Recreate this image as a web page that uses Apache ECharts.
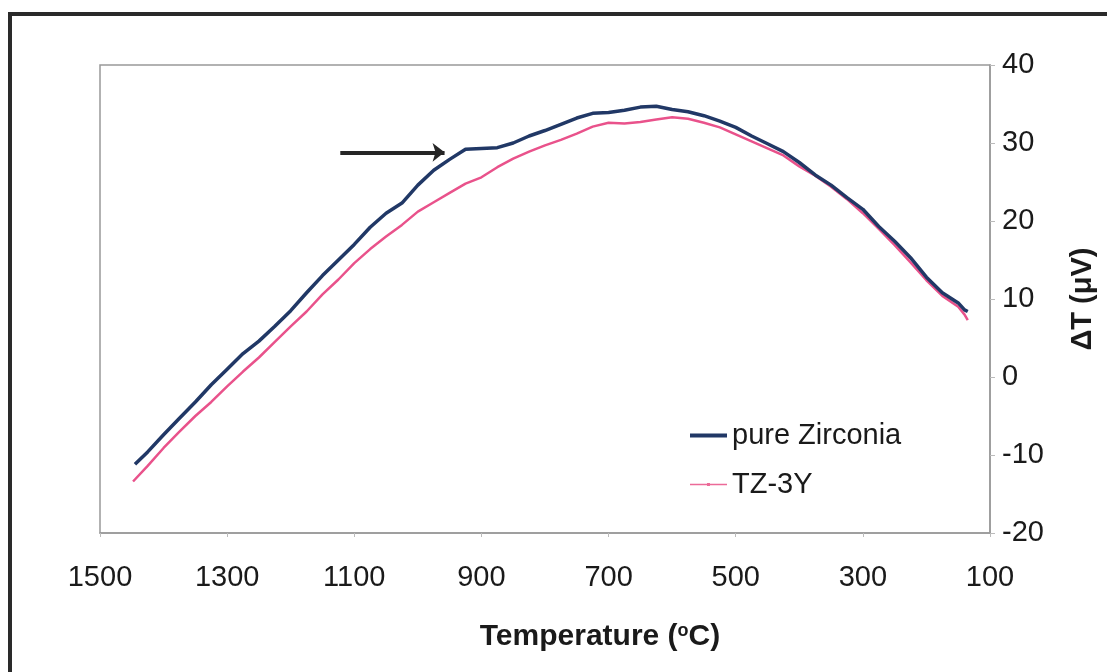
<!DOCTYPE html>
<html><head><meta charset="utf-8">
<script src="https://cdn.jsdelivr.net/npm/echarts@6/dist/echarts.min.js"></script>
<style>html,body{margin:0;padding:0;background:#fff}#c{width:1107px;height:672px}</style>
</head><body><div id="c"></div>
<script>
const zirconiaT = [1445,1425,1400,1375,1350,1325,1300,1275,1250,1225,1200,1175,1150,1125,1100,1075,1050,1025,1000,975,950,925,900,875,850,825,800,775,750,725,700,675,650,625,600,575,550,525,500,475,450,425,400,375,350,325,300,275,250,225,200,175,150,140,135];
const zirconiaDT = [-11.2,-9.6,-7.4,-5.3,-3.2,-1.0,1.0,3.0,4.6,6.5,8.5,10.8,13.0,15.0,17.0,19.2,21.0,22.3,24.6,26.5,27.9,29.2,29.3,29.4,30.0,30.9,31.6,32.4,33.2,33.8,33.9,34.2,34.6,34.7,34.3,34.0,33.5,32.8,32.0,30.9,29.9,28.9,27.5,25.9,24.6,23.0,21.5,19.3,17.4,15.3,12.8,10.8,9.5,8.6,8.4];
const tz3yT = [1448,1425,1400,1375,1350,1325,1300,1275,1250,1225,1200,1175,1150,1125,1100,1075,1050,1025,1000,975,950,925,900,875,850,825,800,775,750,725,700,675,650,625,600,575,550,525,500,475,450,425,400,375,350,325,300,275,250,225,200,175,150,140,135];
const tz3yDT = [-13.4,-11.4,-9.1,-7.0,-5.0,-3.2,-1.2,0.7,2.5,4.5,6.5,8.4,10.6,12.5,14.6,16.4,18.0,19.5,21.2,22.4,23.6,24.8,25.6,26.9,28.0,28.9,29.7,30.4,31.2,32.1,32.6,32.5,32.7,33.0,33.3,33.1,32.6,32.0,31.1,30.2,29.3,28.4,27.0,25.8,24.4,22.8,21.0,19.0,16.9,14.7,12.4,10.4,9.0,8.0,7.3];
const arrowFrom = [1122, 28.8];
const arrowTo = [958, 28.8];

const chart = echarts.init(document.getElementById('c'));
const font = '"Liberation Sans", Arial, sans-serif';
const padPts = 'M0,0L0.01,0L0,0.01Z M0,12L0.01,12L0,11.99Z';
chart.setOption({
  backgroundColor: '#fff',
  animation: false,
  graphic: [{type:'rect', shape:{x:10,y:14,width:1200,height:800}, style:{fill:'none', stroke:'#2a2a2a', lineWidth:4}, silent:true}],
  grid: {left:100, right:117, top:65, bottom:139, show:true, borderColor:'#999', borderWidth:1.5, backgroundColor:'transparent'},
  legend: {
    orient:'vertical', left:685, top:416, itemGap:20, itemWidth:37, itemHeight:12, symbolKeepAspect:false,
    textStyle:{fontFamily:font, fontSize:29, color:'#1a1a1a'},
    data:[
      {name:'pure Zirconia', icon:'path://M0,4L38,4L38,8L0,8Z ' + padPts, itemStyle:{color:'#213866'}},
      {name:'TZ-3Y', icon:'path://M0,5.2L38,5.2L38,6.8L0,6.8Z M17.5,4.5L20.5,4.5L20.5,7.5L17.5,7.5Z ' + padPts, itemStyle:{color:'#ec6a98'}}
    ]
  },
  xAxis: {
    type:'value', inverse:true, min:100, max:1500, interval:200,
    name:'Temperature ({s|o}C)', nameLocation:'middle', nameGap:89,
    nameTextStyle:{fontFamily:font, fontSize:30, fontWeight:'bold', color:'#1a1a1a', padding:[0,0,0,110],
      rich:{s:{fontFamily:font, fontSize:18, fontWeight:'bold', color:'#1a1a1a', verticalAlign:'top', padding:[0,0,12,0]}}},
    axisLine:{show:true, onZero:false, lineStyle:{color:'#999', width:1.5}},
    axisTick:{show:true, length:4, lineStyle:{color:'#bbb'}},
    axisLabel:{fontFamily:font, fontSize:29, color:'#1a1a1a', margin:30, formatter:(v)=>String(v)},
    splitLine:{show:false}
  },
  yAxis: {
    type:'value', position:'right', min:-20, max:40, interval:10,
    name:'ΔT (μV)', nameLocation:'middle', nameGap:78, nameRotate:90,
    nameTextStyle:{fontFamily:font, fontSize:29, fontWeight:'bold', color:'#1a1a1a'},
    axisLine:{show:true, onZero:false, lineStyle:{color:'#999', width:1.5}},
    axisTick:{show:true, inside:false, length:5, lineStyle:{color:'#bbb'}},
    axisLabel:{fontFamily:font, fontSize:29, color:'#1a1a1a', margin:12},
    splitLine:{show:false}
  },
  series: [
    {name:'pure Zirconia', type:'line', symbol:'none', smooth:false, z:3,
     itemStyle:{color:'#213866'}, lineStyle:{color:'#213866', width:3.5},
     data: zirconiaT.map((t,i)=>[t, zirconiaDT[i]]),
     markLine:{silent:true, symbol:['none','arrow'], symbolSize:[14,12], label:{show:false},
       lineStyle:{color:'#262626', width:4, type:'solid'},
       data:[[{coord:arrowFrom},{coord:arrowTo}]]}
    },
    {name:'TZ-3Y', type:'line', symbol:'none', smooth:false, z:2,
     itemStyle:{color:'#e9528b'}, lineStyle:{color:'#e9528b', width:2.5},
     data: tz3yT.map((t,i)=>[t, tz3yDT[i]])}
  ]
});
</script></body></html>
